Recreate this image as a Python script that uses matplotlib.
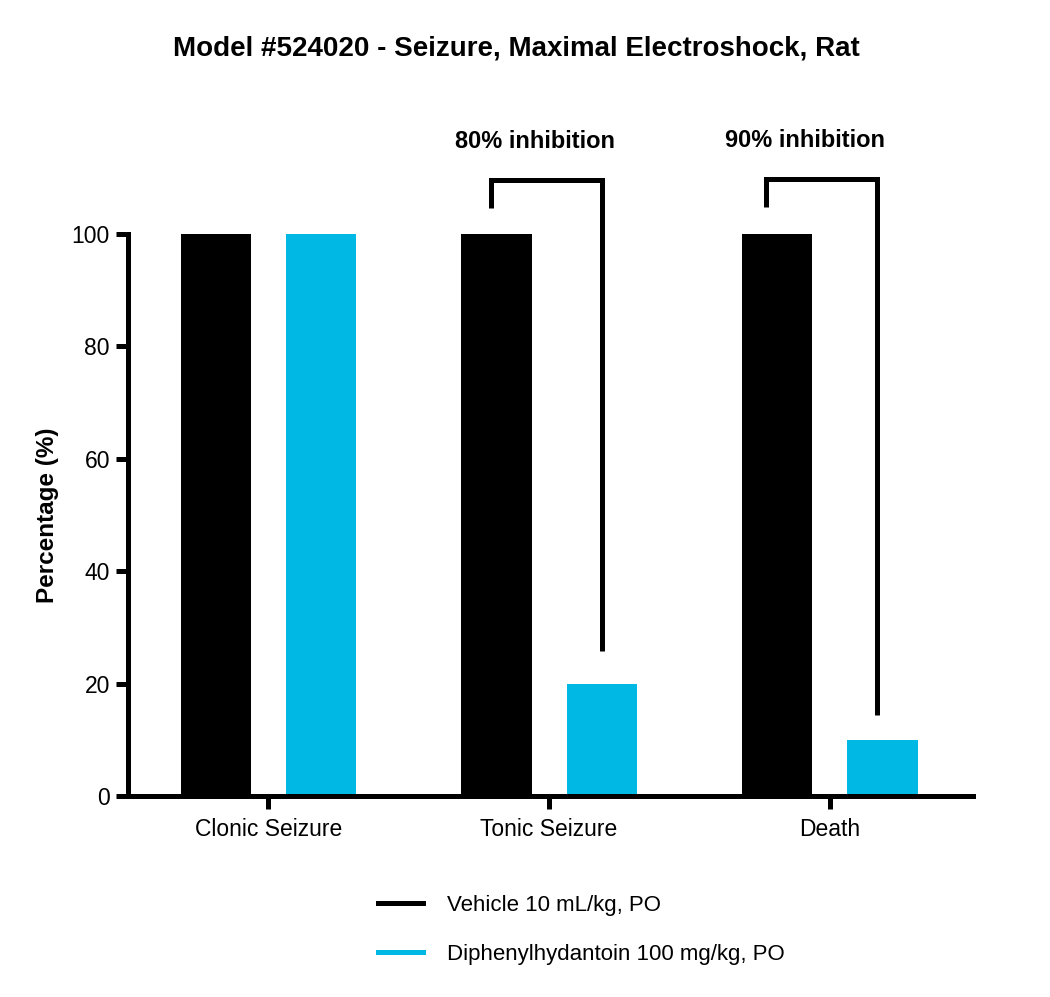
import matplotlib
matplotlib.use("Agg")
import matplotlib.pyplot as plt
from matplotlib.lines import Line2D
import numpy as np

plt.rcParams['font.family'] = ['Liberation Sans', 'DejaVu Sans']

categories = ["Clonic Seizure", "Tonic Seizure", "Death"]
series_names = ["Vehicle 10 mL/kg, PO", "Diphenylhydantoin 100 mg/kg, PO"]
vehicle = [100, 100, 100]
dph = [100, 20, 10]
colors = ["#000000", "#00B8E4"]

# brackets: (category index, left leg x, right leg x, top, left bottom, right bottom, label)
br_cat = [1, 2]
br_left = [0.793, 1.773]
br_right = [1.189, 2.168]
br_top = [109.6, 109.7]
br_left_bot = [104.6, 104.8]
br_right_bot = [25.8, 14.4]
br_text = ["80% inhibition", "90% inhibition"]
br_text_x = [0.95, 1.912]
br_text_y = [116.5, 116.7]

LW = 3.6

def main():
    fig = plt.figure(figsize=(10.5, 9.97), dpi=100)
    ax = fig.add_axes([128/1050, 1-796/997, (973-128)/1050, (796-234)/997])

    x = np.arange(len(categories))
    off = 0.1875
    w = 0.25
    ax.bar(x - off, vehicle, w, color=colors[0], zorder=1)
    ax.bar(x + off, dph, w, color=colors[1], zorder=1)

    ax.set_xlim(-0.5, 2.51)
    ax.set_ylim(0, 100)
    ax.set_yticks([0, 20, 40, 60, 80, 100])
    ax.set_xticks(x)
    ax.set_xticklabels(categories, fontsize=16.5)
    ax.tick_params(axis='y', labelsize=16.5, length=9, width=LW, pad=4)
    ax.tick_params(axis='x', length=9, width=LW, pad=7)

    for s in ['top', 'right']:
        ax.spines[s].set_visible(False)
    for s in ['left', 'bottom']:
        ax.spines[s].set_linewidth(LW)
        ax.spines[s].set_zorder(3)
        ax.spines[s].set_capstyle('projecting')

    ax.set_ylabel("Percentage (%)", fontsize=17.5, fontweight='bold', labelpad=9)

    for i in range(len(br_cat)):
        xs = [br_left[i], br_left[i], br_right[i], br_right[i]]
        ys = [br_left_bot[i], br_top[i], br_top[i], br_right_bot[i]]
        ax.plot(xs, ys, color='black', lw=LW, clip_on=False,
                solid_joinstyle='miter', solid_capstyle='butt')
        ax.text(br_text_x[i], br_text_y[i], br_text[i], ha='center', va='center',
                fontsize=17, fontweight='bold')

    fig.text(516/1050, 1-49/997, "Model #524020 - Seizure, Maximal Electroshock, Rat",
             ha='center', va='center', fontsize=20, fontweight='bold')

    handles = [Line2D([], [], color=c, lw=LW) for c in colors]
    fig.legend(handles, series_names, loc='center', bbox_to_anchor=(0.554, 1-930/997),
               frameon=False, fontsize=16, handlelength=2.0, handletextpad=1.1,
               labelspacing=1.25)

    fig.savefig("out.png", dpi=100)

if __name__ == "__main__":
    main()
